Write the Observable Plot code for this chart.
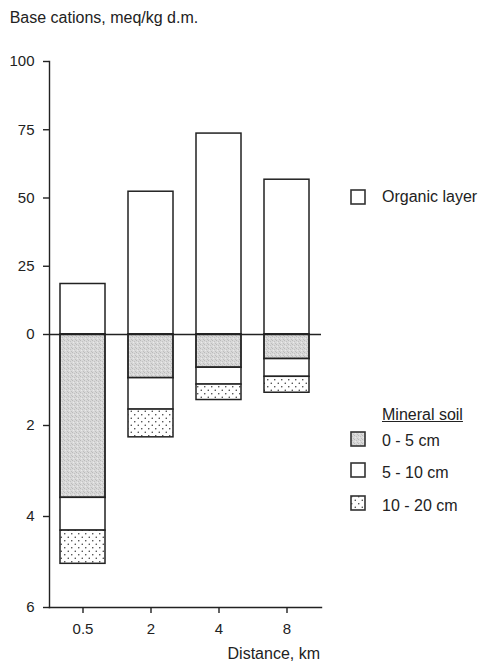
<!DOCTYPE html>
<html>
<head>
<meta charset="utf-8">
<script src="https://cdn.jsdelivr.net/npm/d3@7"></script>
<script src="https://cdn.jsdelivr.net/npm/@observablehq/plot@0.6"></script>
<style>
  html, body { margin: 0; padding: 0; background: #fff; }
  #wrap { position: relative; width: 482px; height: 663px; overflow: hidden;
          font-family: "Liberation Sans", Arial, Helvetica, sans-serif; color: #222; }
  #wrap > svg.plot { position: absolute; left: 0; top: 0; }
  .txt { position: absolute; font-size: 16px; line-height: 16px; white-space: nowrap; }
  .sw { position: absolute; }
</style>
</head>
<body>
<svg width="0" height="0" style="position:absolute">
  <defs>
    <pattern id="stipple" patternUnits="userSpaceOnUse" width="4" height="4">
      <rect width="4" height="4" fill="#d8d8d8"></rect>
      <rect x="0" y="0" width="1" height="1" fill="#bababa"></rect>
      <rect x="2" y="1" width="1" height="1" fill="#c2c2c2"></rect>
      <rect x="1" y="2" width="1" height="1" fill="#eaeaea"></rect>
      <rect x="3" y="3" width="1" height="1" fill="#bebebe"></rect>
    </pattern>
    <pattern id="dots" patternUnits="userSpaceOnUse" width="7" height="7">
      <rect width="7" height="7" fill="#fff"></rect>
      <circle cx="1.75" cy="1.75" r="0.75" fill="#333"></circle>
      <circle cx="5.25" cy="5.25" r="0.75" fill="#333"></circle>
    </pattern>
  </defs>
</svg>
<div id="wrap"></div>
<script>
// ---- data ----
const distances = ["0.5", "2", "4", "8"];
const organicLayer = [18.5, 52.3, 73.6, 56.7];          // meq/kg d.m., upper scale 0-100
const mineral0to5 = [3.59, 0.96, 0.73, 0.54];           // lower scale 0-6
const mineral5to10 = [0.72, 0.69, 0.37, 0.39];
const mineral10to20 = [0.73, 0.61, 0.34, 0.35];
const organicTicks = [0, 25, 50, 75, 100];
const mineralTicks = [2, 4, 6];
const mineralLayers = ["0 - 5 cm", "5 - 10 cm", "10 - 20 cm"];
const layerFills = ["url(#stipple)", "white", "url(#dots)"];

// lower axis (0..6) is drawn with the same length as the upper one (0..100)
const k = 100 / 6;

const organicRows = distances.map((d, i) => ({dist: d, value: organicLayer[i]}));
const mineralSeries = [mineral0to5, mineral5to10, mineral10to20];
const mineralRows = mineralSeries.map((s, j) =>
  distances.map((d, i) => {
    let top = 0;
    for (let m = 0; m < j; m++) top += mineralSeries[m][i];
    return {dist: d, layer: mineralLayers[j], y1: -top * k, y2: -(top + s[i]) * k};
  })
);

const yTicks = [...mineralTicks.map(t => -t * k), ...organicTicks];
const fmt = v => v < 0 ? String(Math.round(-v / k)) : String(v);

const chart = Plot.plot({
  width: 482,
  height: 663,
  marginLeft: 49,
  marginRight: 161,
  marginTop: 61,
  marginBottom: 56,
  style: {background: "white", color: "#222", fontFamily: "'Liberation Sans', Arial, Helvetica, sans-serif"},
  x: {domain: distances, paddingInner: 0.335, paddingOuter: 0.1675},
  y: {domain: [-100, 100]},
  marks: [
    Plot.barY(organicRows, {x: "dist", y1: 0, y2: "value", fill: "white", stroke: "#222", strokeWidth: 1.5}),
    ...mineralRows.map((rows, j) => Plot.barY(rows, {
      x: "dist", y1: "y1", y2: "y2", fill: layerFills[j], stroke: "#222",
      strokeWidth: j === 0 ? 1.8 : 1.5
    })),
    Plot.ruleY([0], {stroke: "#222", strokeWidth: 1.4}),
    Plot.frame({anchor: "left", stroke: "#222", strokeWidth: 1.4}),
    Plot.frame({anchor: "bottom", stroke: "#222", strokeWidth: 1.4}),
    Plot.axisY(yTicks, {tickFormat: fmt, tickSize: 6, tickPadding: 9, fontSize: 15, label: null, strokeWidth: 1.4}),
    Plot.axisX({tickSize: 6, tickPadding: 10, fontSize: 15, label: null, strokeWidth: 1.4})
  ]
});
chart.classList.add("plot");
const wrap = document.getElementById("wrap");
wrap.appendChild(chart);

function addText(str, left, top, extra) {
  const el = document.createElement("div");
  el.className = "txt";
  el.textContent = str;
  el.style.left = left + "px";
  el.style.top = top + "px";
  if (extra) Object.assign(el.style, extra);
  wrap.appendChild(el);
  return el;
}
function addSwatch(fill, left, top) {
  const ns = "http://www.w3.org/2000/svg";
  const s = document.createElementNS(ns, "svg");
  s.setAttribute("class", "sw");
  s.setAttribute("width", 17); s.setAttribute("height", 17);
  s.style.left = left + "px"; s.style.top = top + "px";
  const r = document.createElementNS(ns, "rect");
  r.setAttribute("x", 1); r.setAttribute("y", 1);
  r.setAttribute("width", 14); r.setAttribute("height", 14);
  r.setAttribute("fill", fill); r.setAttribute("stroke", "#333"); r.setAttribute("stroke-width", 1.6);
  s.appendChild(r);
  wrap.appendChild(s);
}

addText("Base cations, meq/kg d.m.", 9.7, 9.5);
addText("Distance, km", null, 646, {right: "162px", left: "auto"});

addSwatch("white", 350, 189);
addText("Organic layer", 382, 189.2);

addText("Mineral soil", 382, 407.2, {textDecoration: "underline"});
const swTops = [431, 462, 495];
const txTops = [433.2, 464.5, 497.9];
mineralLayers.forEach((lab, j) => {
  addSwatch(layerFills[j], 350, swTops[j]);
  addText(lab, 382, txTops[j]);
});
</script>
</body>
</html>
